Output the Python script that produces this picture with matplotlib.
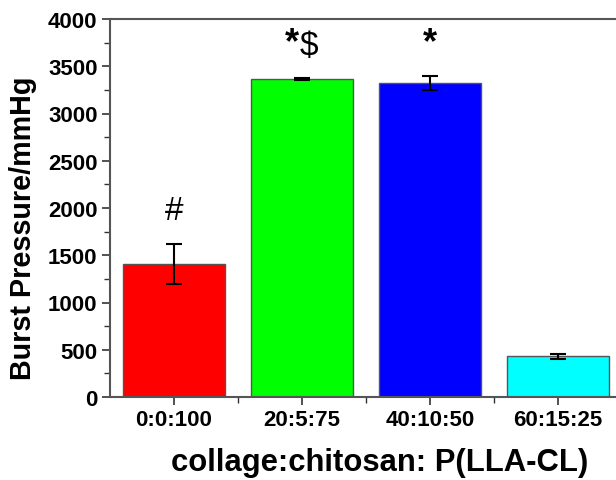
import matplotlib
matplotlib.use("Agg")
import matplotlib.pyplot as plt
from matplotlib.ticker import MultipleLocator, FixedLocator

plt.rcParams['font.family'] = ['Liberation Sans', 'DejaVu Sans']

# burst pressure for each blend ratio
ratios = ['0:0:100', '20:5:75', '40:10:50', '60:15:25']
pressure = [1405, 3365, 3320, 430]
errors = [210, 12, 75, 25]
colors = ['#ff0000', '#00ff00', '#0000ff', '#00ffff']
marks = ['#', '*$', '*', '']

fig = plt.figure(figsize=(6.16, 4.81), dpi=100)
ax = fig.add_axes([110 / 616, 83 / 481, 512 / 616, 378 / 481])

x = list(range(1, len(ratios) + 1))
ax.bar(x, pressure, width=0.8, color=colors, edgecolor='#555555', linewidth=1.0,
       yerr=errors, error_kw=dict(ecolor='black', elinewidth=1.5, capsize=6, capthick=1.5))

ax.set_xlim(0.5, 4.5)
ax.set_ylim(0, 4000)
ax.set_xticks(x)
ax.set_xticklabels(ratios, fontsize=16, fontweight='bold')
ax.xaxis.set_minor_locator(FixedLocator([1.5, 2.5, 3.5]))
ax.yaxis.set_major_locator(MultipleLocator(500))
ax.yaxis.set_minor_locator(MultipleLocator(250))
for lbl in ax.get_yticklabels():
    lbl.set_fontsize(16)
    lbl.set_fontweight('bold')
ax.tick_params(which='major', direction='out', length=6, width=1.2, color='#333333', pad=3)
ax.tick_params(which='minor', direction='out', length=4, width=1.0, color='#333333')
for s in ax.spines.values():
    s.set_color('#555555')
    s.set_linewidth(1.5)

ax.set_ylabel('Burst Pressure/mmHg', fontsize=20.7, fontweight='bold', va='center')
ax.yaxis.set_label_coords(-0.17, 0.45)
ax.set_xlabel('collage:chitosan: P(LLA-CL)', fontsize=22.3, fontweight='bold', va='center')
ax.xaxis.set_label_coords(0.527, -0.172)

# significance marks above the bars
for xi, p, e, m in zip(x, pressure, errors, marks):
    if not m:
        continue
    if m == '#':
        ax.text(xi, p + e + 190, '#', ha='center', va='bottom', fontsize=24)
    elif m == '*$':
        ax.text(xi - 0.02, 3560, '*', ha='right', va='bottom', fontsize=26, fontweight='bold')
        ax.text(xi - 0.02, 3560, '$', ha='left', va='bottom', fontsize=24)
    else:
        ax.text(xi, 3560, '*', ha='center', va='bottom', fontsize=26, fontweight='bold')

fig.savefig('out.png', dpi=100)
